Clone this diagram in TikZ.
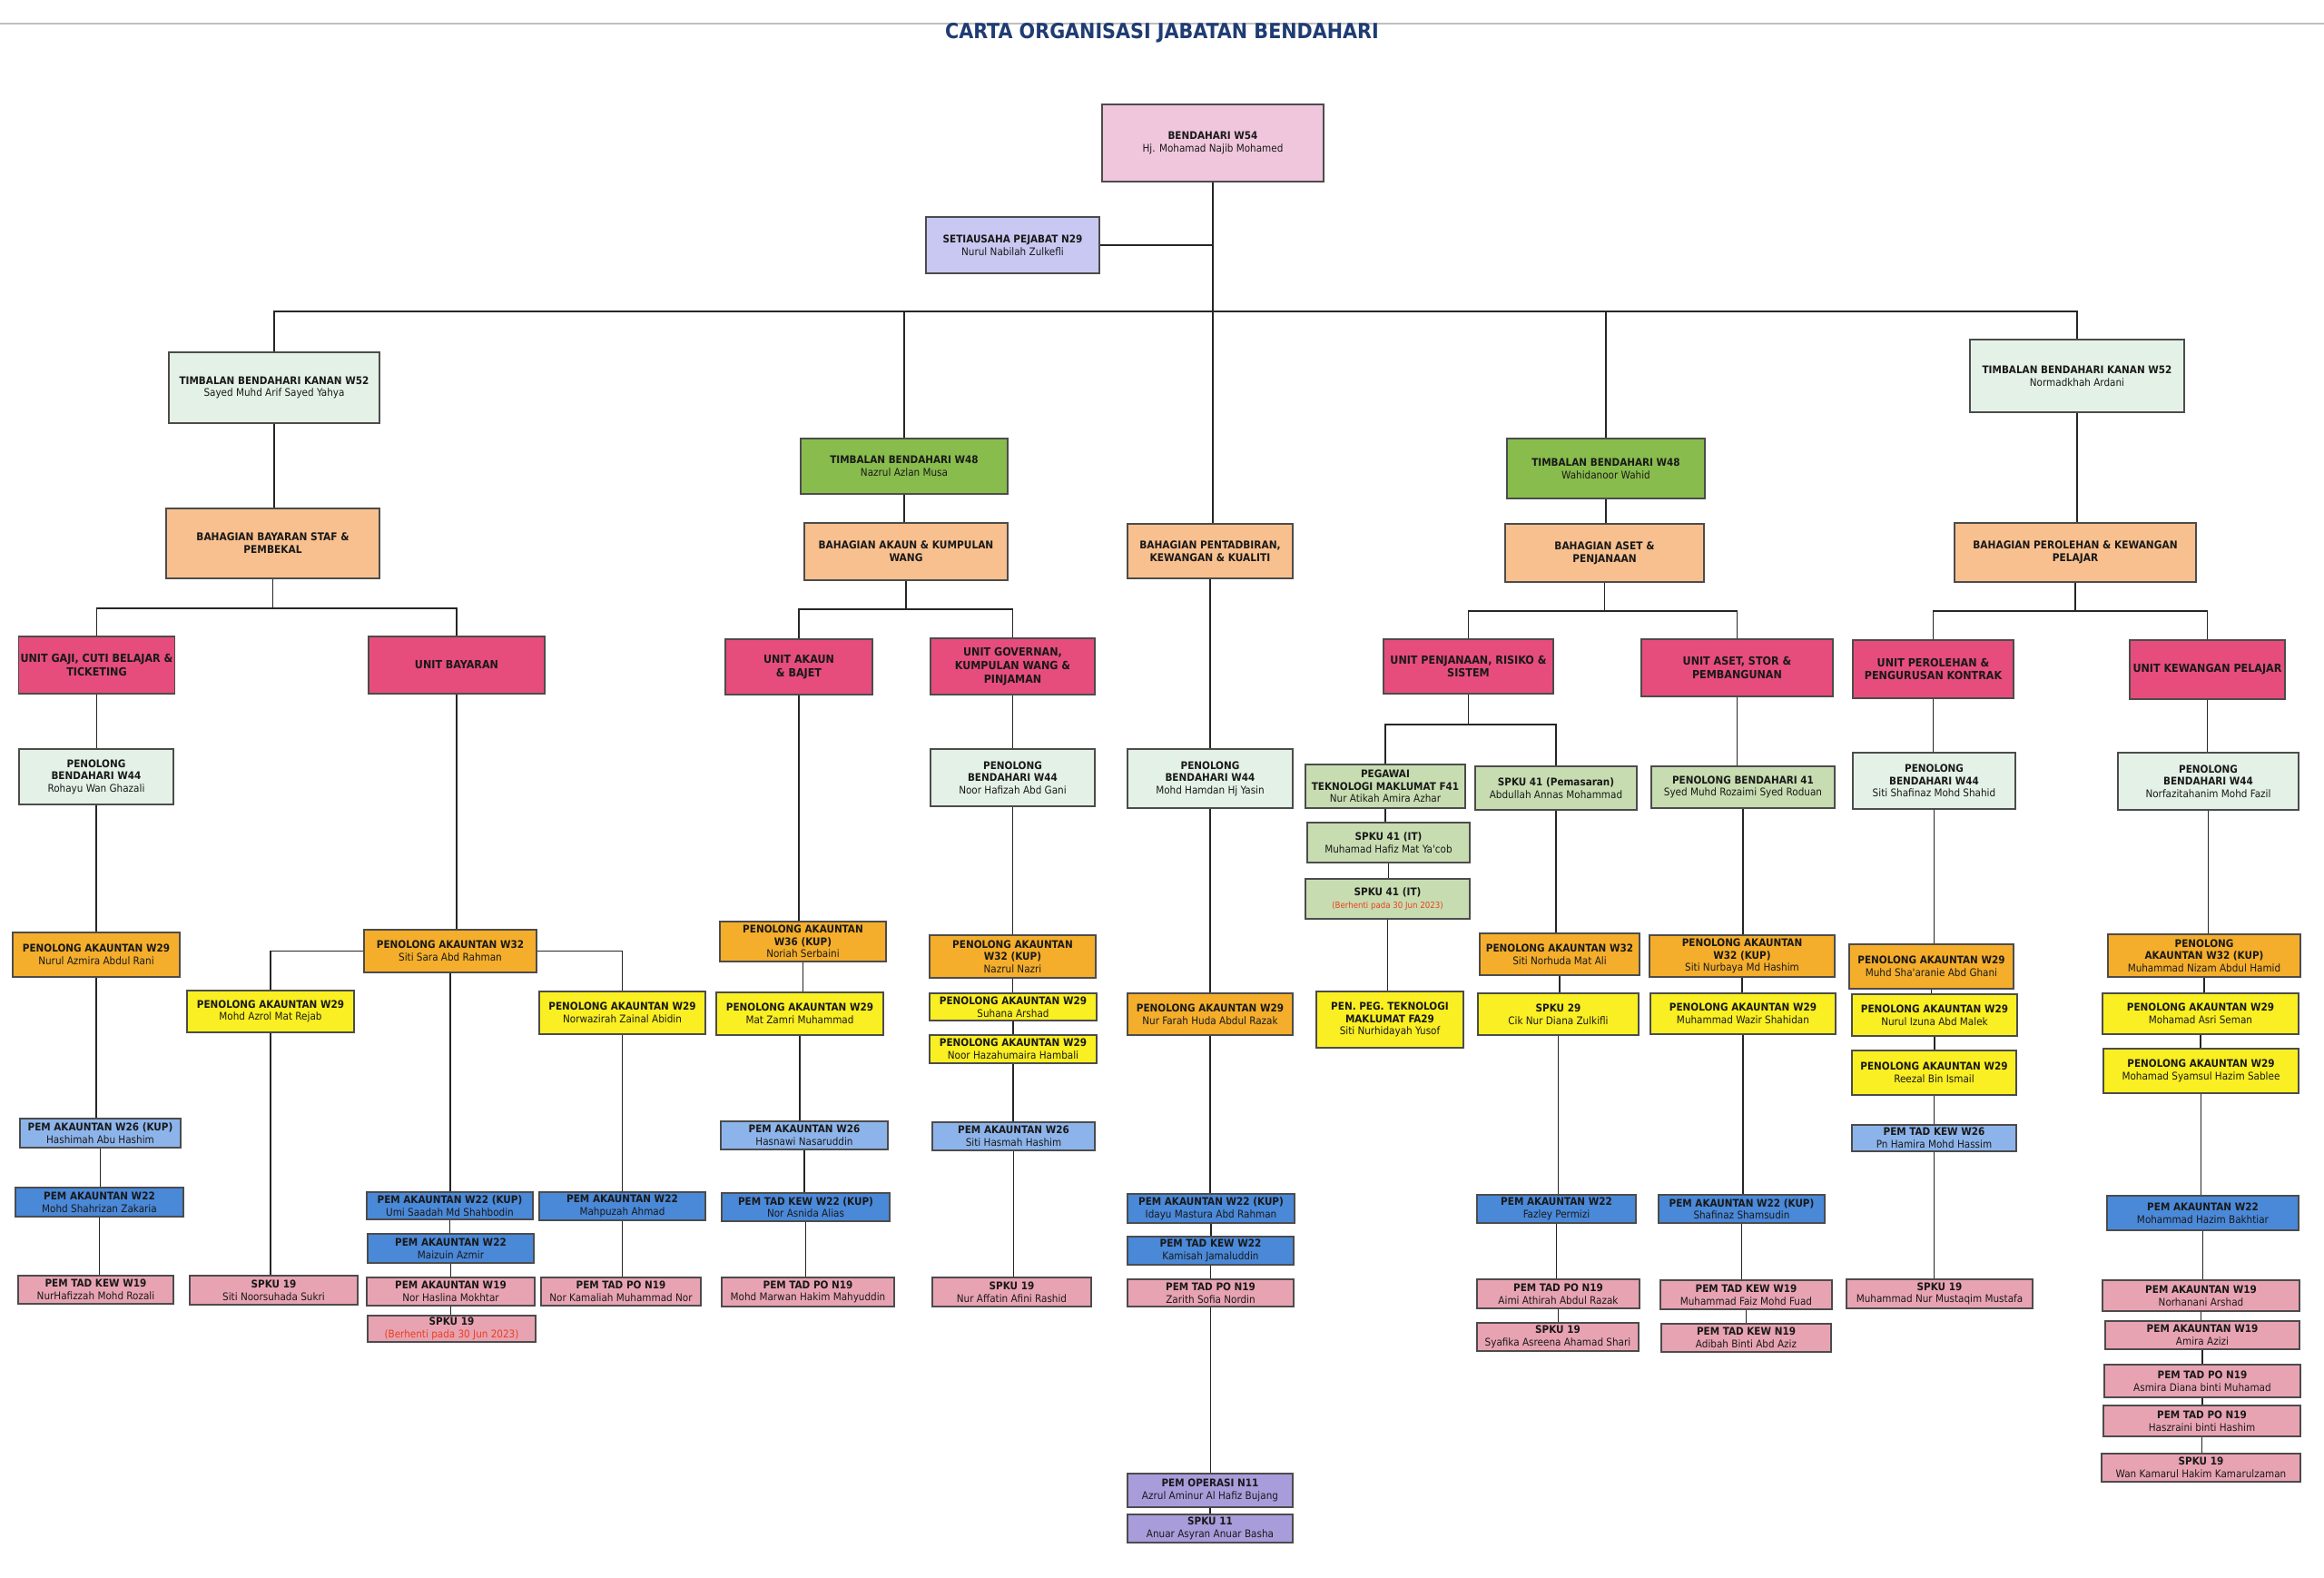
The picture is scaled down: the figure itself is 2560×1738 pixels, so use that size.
\documentclass[tikz,border=0pt]{standalone}
\usepackage{fontspec}
\newfontfamily\chartfont{DejaVu Sans Condensed}
\usetikzlibrary{calc}
\definecolor{titleblue}{HTML}{1F3C73}
\definecolor{stopred}{HTML}{E8401C}
\definecolor{cbend}{HTML}{F0C6DC}
\definecolor{csetia}{HTML}{C8C8F2}
\definecolor{cpale}{HTML}{E4F1E6}
\definecolor{cgreen}{HTML}{88BC4C}
\definecolor{cpeach}{HTML}{F8C08F}
\definecolor{cunit}{HTML}{E64D7C}
\definecolor{cltgreen}{HTML}{C7DDB1}
\definecolor{corange}{HTML}{F4AE2C}
\definecolor{cyellow}{HTML}{F9EF22}
\definecolor{cltblue}{HTML}{8DB4EA}
\definecolor{cblue}{HTML}{4A88D8}
\definecolor{cpink}{HTML}{E8A3B3}
\definecolor{cpurple}{HTML}{A99CDB}
\tikzset{
  box/.style = {draw=black!70, line width=0.6pt, align=center, inner sep=1pt,
                text=black!90, font=\chartfont\fontsize{5.8}{6.8}\selectfont},
  hdbox/.style = {box, fill=cbend},
  setia/.style = {box, fill=csetia},
  tbk/.style = {box, fill=cpale},
  tbh/.style = {box, fill=cgreen},
  bhg/.style = {box, fill=cpeach, font=\chartfont\bfseries\fontsize{5.9}{7.1}\selectfont},
  unitbox/.style = {box, fill=cunit, font=\chartfont\bfseries\fontsize{6.2}{7.4}\selectfont},
  pbw/.style = {box, fill=cpale},
  ltg/.style = {box, fill=cltgreen},
  ora/.style = {box, fill=corange},
  yel/.style = {box, fill=cyellow},
  lbl/.style = {box, fill=cltblue},
  blu/.style = {box, fill=cblue},
  pnk/.style = {box, fill=cpink},
  pur/.style = {box, fill=cpurple},
  link/.style = {draw=black!85, line width=0.65pt},
  charttitle/.style = {text=titleblue, font=\chartfont\bfseries\fontsize{11.5}{12}\selectfont},
}
% box from its corners in pixels of the scan
\newcommand\orgbox[7]{\node[#2, minimum width={(#5-#3)*0.5pt},
  minimum height={(#6-#4)*0.5pt}] (#1) at ({(#3+#5)/2},{(#4+#6)/2}) {#7};}
\newcommand\stopnote{\textcolor{stopred}{(Berhenti pada 30 Jun 2023)}}
\begin{document}
\begin{tikzpicture}[x=0.5pt,y=-0.5pt]
\fill[white] (0,0) rectangle (2560,1738);
\useasboundingbox (0,0) rectangle (2560,1738);
\draw[black!25, line width=0.8pt] (0,26) -- (2560,26);
\node[charttitle] (title) at (1280,36) {CARTA ORGANISASI JABATAN BENDAHARI};

% top
\orgbox{bend}{hdbox}{1214}{115}{1458}{200}{\textbf{BENDAHARI W54}\\Hj. Mohamad Najib Mohamed}
\orgbox{setia}{setia}{1020}{239}{1211}{301}{\textbf{SETIAUSAHA PEJABAT N29}\\Nurul Nabilah Zulkefli}
\orgbox{tbkl}{tbk}{186}{388}{418}{466}{\textbf{TIMBALAN BENDAHARI KANAN W52}\\Sayed Muhd Arif Sayed Yahya}
\orgbox{tbl}{tbh}{882}{483}{1110}{544}{\textbf{TIMBALAN BENDAHARI W48}\\Nazrul Azlan Musa}
\orgbox{tbr}{tbh}{1660}{483}{1878}{549}{\textbf{TIMBALAN BENDAHARI W48}\\Wahidanoor Wahid}
\orgbox{tbkr}{tbk}{2170}{374}{2406}{454}{\textbf{TIMBALAN BENDAHARI KANAN W52}\\Normadkhah Ardani}

% bahagian
\orgbox{bstaf}{bhg}{183}{560}{418}{637}{BAHAGIAN BAYARAN STAF \&\\PEMBEKAL}
\orgbox{bakaun}{bhg}{886}{576}{1110}{639}{BAHAGIAN AKAUN \& KUMPULAN\\WANG}
\orgbox{bpentad}{bhg}{1242}{577}{1424}{637}{BAHAGIAN PENTADBIRAN,\\KEWANGAN \& KUALITI}
\orgbox{baset}{bhg}{1658}{577}{1877}{641}{BAHAGIAN ASET \&\\PENJANAAN}
\orgbox{bperol}{bhg}{2153}{576}{2419}{641}{BAHAGIAN PEROLEHAN \& KEWANGAN\\PELAJAR}

% unit
\orgbox{ugaji}{unitbox}{21}{701}{192}{764}{UNIT GAJI, CUTI BELAJAR \&\\TICKETING}
\orgbox{ubayar}{unitbox}{406}{701}{600}{764}{UNIT BAYARAN}
\orgbox{uakaun}{unitbox}{799}{704}{961}{765}{UNIT AKAUN\\\& BAJET}
\orgbox{ugov}{unitbox}{1025}{703}{1206}{765}{UNIT GOVERNAN,\\KUMPULAN WANG \&\\PINJAMAN}
\orgbox{upenj}{unitbox}{1524}{704}{1711}{764}{UNIT PENJANAAN, RISIKO \&\\SISTEM}
\orgbox{uaset}{unitbox}{1808}{704}{2019}{767}{UNIT ASET, STOR \&\\PEMBANGUNAN}
\orgbox{uperol}{unitbox}{2041}{705}{2218}{769}{UNIT PEROLEHAN \&\\PENGURUSAN KONTRAK}
\orgbox{ukew}{unitbox}{2346}{705}{2517}{770}{UNIT KEWANGAN PELAJAR}

% gaji
\orgbox{pb1}{pbw}{21}{825}{191}{886}{\textbf{PENOLONG}\\\textbf{BENDAHARI W44}\\Rohayu Wan Ghazali}
\orgbox{pa1}{ora}{14}{1027}{198}{1076}{\textbf{PENOLONG AKAUNTAN W29}\\Nurul Azmira Abdul Rani}
\orgbox{pm1}{lbl}{22}{1232}{199}{1264}{\textbf{PEM AKAUNTAN W26 (KUP)}\\Hashimah Abu Hashim}
\orgbox{pm2}{blu}{17}{1308}{202}{1340}{\textbf{PEM AKAUNTAN W22}\\Mohd Shahrizan Zakaria}
\orgbox{pm3}{pnk}{20}{1405}{191}{1436}{\textbf{PEM TAD KEW W19}\\NurHafizzah Mohd Rozali}

% bayaran
\orgbox{pa2}{ora}{401}{1024}{591}{1071}{\textbf{PENOLONG AKAUNTAN W32}\\Siti Sara Abd Rahman}
\orgbox{pa3}{yel}{206}{1091}{390}{1137}{\textbf{PENOLONG AKAUNTAN W29}\\Mohd Azrol Mat Rejab}
\orgbox{pa4}{yel}{594}{1092}{777}{1139}{\textbf{PENOLONG AKAUNTAN W29}\\Norwazirah Zainal Abidin}
\orgbox{sp1}{pnk}{209}{1405}{394}{1437}{\textbf{SPKU 19}\\Siti Noorsuhada Sukri}
\orgbox{pm4}{blu}{404}{1313}{587}{1343}{\textbf{PEM AKAUNTAN W22 (KUP)}\\Umi Saadah Md Shahbodin}
\orgbox{pm5}{blu}{405}{1359}{588}{1391}{\textbf{PEM AKAUNTAN W22}\\Maizuin Azmir}
\orgbox{pm6}{pnk}{404}{1407}{589}{1438}{\textbf{PEM AKAUNTAN W19}\\Nor Haslina Mokhtar}
\orgbox{sp2}{pnk}{405}{1449}{590}{1478}{\textbf{SPKU 19}\\\stopnote}
\orgbox{pm7}{blu}{594}{1313}{777}{1344}{\textbf{PEM AKAUNTAN W22}\\Mahpuzah Ahmad}
\orgbox{pm8}{pnk}{596}{1407}{772}{1438}{\textbf{PEM TAD PO N19}\\Nor Kamaliah Muhammad Nor}

% akaun & bajet
\orgbox{pa5}{ora}{793}{1015}{976}{1059}{\textbf{PENOLONG AKAUNTAN}\\\textbf{W36 (KUP)}\\Noriah Serbaini}
\orgbox{pa6}{yel}{789}{1093}{973}{1140}{\textbf{PENOLONG AKAUNTAN W29}\\Mat Zamri Muhammad}
\orgbox{pm9}{lbl}{794}{1235}{978}{1266}{\textbf{PEM AKAUNTAN W26}\\Hasnawi Nasaruddin}
\orgbox{pm10}{blu}{795}{1314}{980}{1345}{\textbf{PEM TAD KEW W22 (KUP)}\\Nor Asnida Alias}
\orgbox{pm11}{pnk}{795}{1407}{985}{1439}{\textbf{PEM TAD PO N19}\\Mohd Marwan Hakim Mahyuddin}

% governan
\orgbox{pb2}{pbw}{1025}{825}{1206}{888}{\textbf{PENOLONG}\\\textbf{BENDAHARI W44}\\Noor Hafizah Abd Gani}
\orgbox{pa7}{ora}{1024}{1030}{1207}{1077}{\textbf{PENOLONG AKAUNTAN}\\\textbf{W32 (KUP)}\\Nazrul Nazri}
\orgbox{pa8}{yel}{1024}{1094}{1208}{1124}{\textbf{PENOLONG AKAUNTAN W29}\\Suhana Arshad}
\orgbox{pa9}{yel}{1024}{1140}{1208}{1171}{\textbf{PENOLONG AKAUNTAN W29}\\Noor Hazahumaira Hambali}
\orgbox{pm12}{lbl}{1027}{1236}{1206}{1267}{\textbf{PEM AKAUNTAN W26}\\Siti Hasmah Hashim}
\orgbox{sp3}{pnk}{1027}{1407}{1202}{1439}{\textbf{SPKU 19}\\Nur Affatin Afini Rashid}

% pentadbiran
\orgbox{pb3}{pbw}{1242}{825}{1424}{890}{\textbf{PENOLONG}\\\textbf{BENDAHARI W44}\\Mohd Hamdan Hj Yasin}
\orgbox{pa10}{ora}{1242}{1094}{1424}{1140}{\textbf{PENOLONG AKAUNTAN W29}\\Nur Farah Huda Abdul Razak}
\orgbox{pm13}{blu}{1242}{1315}{1426}{1347}{\textbf{PEM AKAUNTAN W22 (KUP)}\\Idayu Mastura Abd Rahman}
\orgbox{pm14}{blu}{1242}{1362}{1425}{1393}{\textbf{PEM TAD KEW W22}\\Kamisah Jamaluddin}
\orgbox{pm15}{pnk}{1242}{1409}{1425}{1439}{\textbf{PEM TAD PO N19}\\Zarith Sofia Nordin}
\orgbox{po1}{pur}{1242}{1623}{1424}{1660}{\textbf{PEM OPERASI N11}\\Azrul Aminur Al Hafiz Bujang}
\orgbox{sp4}{pur}{1242}{1668}{1424}{1699}{\textbf{SPKU 11}\\Anuar Asyran Anuar Basha}

% penjanaan
\orgbox{ptm}{ltg}{1438}{842}{1614}{890}{\textbf{PEGAWAI}\\\textbf{TEKNOLOGI MAKLUMAT F41}\\Nur Atikah Amira Azhar}
\orgbox{sk1}{ltg}{1440}{906}{1619}{950}{\textbf{SPKU 41 (IT)}\\Muhamad Hafiz Mat Ya'cob}
\orgbox{sk2}{ltg}{1438}{968}{1619}{1012}{\textbf{SPKU 41 (IT)}\\{\fontsize{4.8}{6}\selectfont\stopnote}}
\orgbox{pp1}{yel}{1450}{1092}{1612}{1154}{\textbf{PEN. PEG. TEKNOLOGI}\\\textbf{MAKLUMAT FA29}\\Siti Nurhidayah Yusof}
\orgbox{sk3}{ltg}{1625}{844}{1803}{892}{\textbf{SPKU 41 (Pemasaran)}\\Abdullah Annas Mohammad}
\orgbox{pa11}{ora}{1630}{1028}{1806}{1074}{\textbf{PENOLONG AKAUNTAN W32}\\Siti Norhuda Mat Ali}
\orgbox{sk4}{yel}{1628}{1094}{1805}{1140}{\textbf{SPKU 29}\\Cik Nur Diana Zulkifli}
\orgbox{pm16}{blu}{1627}{1316}{1802}{1347}{\textbf{PEM AKAUNTAN W22}\\Fazley Permizi}
\orgbox{pm17}{pnk}{1627}{1409}{1806}{1441}{\textbf{PEM TAD PO N19}\\Aimi Athirah Abdul Razak}
\orgbox{sp5}{pnk}{1627}{1457}{1805}{1488}{\textbf{SPKU 19}\\Syafika Asreena Ahamad Shari}

% aset, stor
\orgbox{pb4}{ltg}{1819}{844}{2021}{890}{\textbf{PENOLONG BENDAHARI 41}\\Syed Muhd Rozaimi Syed Roduan}
\orgbox{pa12}{ora}{1817}{1030}{2021}{1076}{\textbf{PENOLONG AKAUNTAN}\\\textbf{W32 (KUP)}\\Siti Nurbaya Md Hashim}
\orgbox{pa13}{yel}{1818}{1094}{2022}{1139}{\textbf{PENOLONG AKAUNTAN W29}\\Muhammad Wazir Shahidan}
\orgbox{pm18}{blu}{1827}{1316}{2010}{1347}{\textbf{PEM AKAUNTAN W22 (KUP)}\\Shafinaz Shamsudin}
\orgbox{pm19}{pnk}{1829}{1410}{2018}{1442}{\textbf{PEM TAD KEW W19}\\Muhammad Faiz Mohd Fuad}
\orgbox{pm20}{pnk}{1830}{1458}{2017}{1489}{\textbf{PEM TAD KEW N19}\\Adibah Binti Abd Aziz}

% perolehan
\orgbox{pb5}{pbw}{2041}{829}{2220}{891}{\textbf{PENOLONG}\\\textbf{BENDAHARI W44}\\Siti Shafinaz Mohd Shahid}
\orgbox{pa14}{ora}{2037}{1040}{2218}{1089}{\textbf{PENOLONG AKAUNTAN W29}\\Muhd Sha'aranie Abd Ghani}
\orgbox{pa15}{yel}{2040}{1095}{2222}{1141}{\textbf{PENOLONG AKAUNTAN W29}\\Nurul Izuna Abd Malek}
\orgbox{pa16}{yel}{2040}{1157}{2221}{1206}{\textbf{PENOLONG AKAUNTAN W29}\\Reezal Bin Ismail}
\orgbox{pm21}{lbl}{2040}{1239}{2221}{1268}{\textbf{PEM TAD KEW W26}\\Pn Hamira Mohd Hassim}
\orgbox{sp6}{pnk}{2034}{1409}{2239}{1441}{\textbf{SPKU 19}\\Muhammad Nur Mustaqim Mustafa}

% kewangan pelajar
\orgbox{pb6}{pbw}{2333}{829}{2532}{892}{\textbf{PENOLONG}\\\textbf{BENDAHARI W44}\\Norfazitahanim Mohd Fazil}
\orgbox{pa17}{ora}{2322}{1029}{2534}{1076}{\textbf{PENOLONG}\\\textbf{AKAUNTAN W32 (KUP)}\\Muhammad Nizam Abdul Hamid}
\orgbox{pa18}{yel}{2316}{1094}{2532}{1139}{\textbf{PENOLONG AKAUNTAN W29}\\Mohamad Asri Seman}
\orgbox{pa19}{yel}{2317}{1155}{2532}{1204}{\textbf{PENOLONG AKAUNTAN W29}\\Mohamad Syamsul Hazim Sablee}
\orgbox{pm22}{blu}{2321}{1317}{2532}{1355}{\textbf{PEM AKAUNTAN W22}\\Mohammad Hazim Bakhtiar}
\orgbox{pm23}{pnk}{2316}{1410}{2533}{1444}{\textbf{PEM AKAUNTAN W19}\\Norhanani Arshad}
\orgbox{pm24}{pnk}{2319}{1455}{2533}{1486}{\textbf{PEM AKAUNTAN W19}\\Amira Azizi}
\orgbox{pm25}{pnk}{2318}{1503}{2534}{1539}{\textbf{PEM TAD PO N19}\\Asmira Diana binti Muhamad}
\orgbox{pm26}{pnk}{2317}{1548}{2534}{1582}{\textbf{PEM TAD PO N19}\\Haszraini binti Hashim}
\orgbox{sp7}{pnk}{2315}{1601}{2534}{1632}{\textbf{SPKU 19}\\Wan Kamarul Hakim Kamarulzaman}

% connectors
\coordinate (mainbar) at (0,343);
\coordinate (bar1) at (0,670);
\coordinate (bar2) at (0,671);
\coordinate (bar3) at (0,673);
\coordinate (bar4) at (0,673);
\coordinate (bar5) at (0,798);
\draw[link] (setia.east) -- (setia.east -| bend.south);
\draw[link] (tbkl.north) |- (mainbar -| tbkr.north) -- (tbkr.north);
\draw[link] (tbl.north) -- (tbl.north |- mainbar);
\draw[link] (tbr.north) -- (tbr.north |- mainbar);
\draw[link] (bstaf.south) -- (bstaf.south |- bar1);
\draw[link] (ugaji.north) |- (bar1 -| ubayar.north) -- (ubayar.north);
\draw[link] (bakaun.south) -- (bakaun.south |- bar2);
\draw[link] (uakaun.north) |- (bar2 -| ugov.north) -- (ugov.north);
\draw[link] (baset.south) -- (baset.south |- bar3);
\draw[link] (upenj.north) |- (bar3 -| uaset.north) -- (uaset.north);
\draw[link] (bperol.south) -- (bperol.south |- bar4);
\draw[link] (uperol.north) |- (bar4 -| ukew.north) -- (ukew.north);
\draw[link] (upenj.south) -- (upenj.south |- bar5);
\draw[link] (ptm.north) |- (bar5 -| sk3.north) -- (sk3.north);
\draw[link] (pa2.west) -| (pa3.north);
\draw[link] (pa2.east) -| (pa4.north);
\foreach \a/\b in {bend/bpentad, tbkl/bstaf, tbl/bakaun, tbr/baset, tbkr/bperol,
    ugaji/pb1, pb1/pa1, pa1/pm1, pm1/pm2, pm2/pm3,
    ubayar/pa2, pa2/pm4, pm4/pm5, pm5/pm6, pm6/sp2, pa3/sp1, pa4/pm7, pm7/pm8,
    uakaun/pa5, pa5/pa6, pa6/pm9, pm9/pm10, pm10/pm11,
    ugov/pb2, pb2/pa7, pa7/pa8, pa8/pa9, pa9/pm12, pm12/sp3,
    bpentad/pb3, pb3/pa10, pa10/pm13, pm13/pm14, pm14/pm15, pm15/po1, po1/sp4,
    ptm/sk1, sk1/sk2, sk2/pp1,
    sk3/pa11, pa11/sk4, sk4/pm16, pm16/pm17, pm17/sp5,
    uaset/pb4, pb4/pa12, pa12/pa13, pa13/pm18, pm18/pm19, pm19/pm20,
    uperol/pb5, pb5/pa14, pa14/pa15, pa15/pa16, pa16/pm21, pm21/sp6,
    ukew/pb6, pb6/pa17, pa17/pa18, pa18/pa19, pa19/pm22, pm22/pm23,
    pm23/pm24, pm24/pm25, pm25/pm26, pm26/sp7}
  \draw[link] (\a.south) -- (\a.south |- \b.north);
\end{tikzpicture}
\end{document}
